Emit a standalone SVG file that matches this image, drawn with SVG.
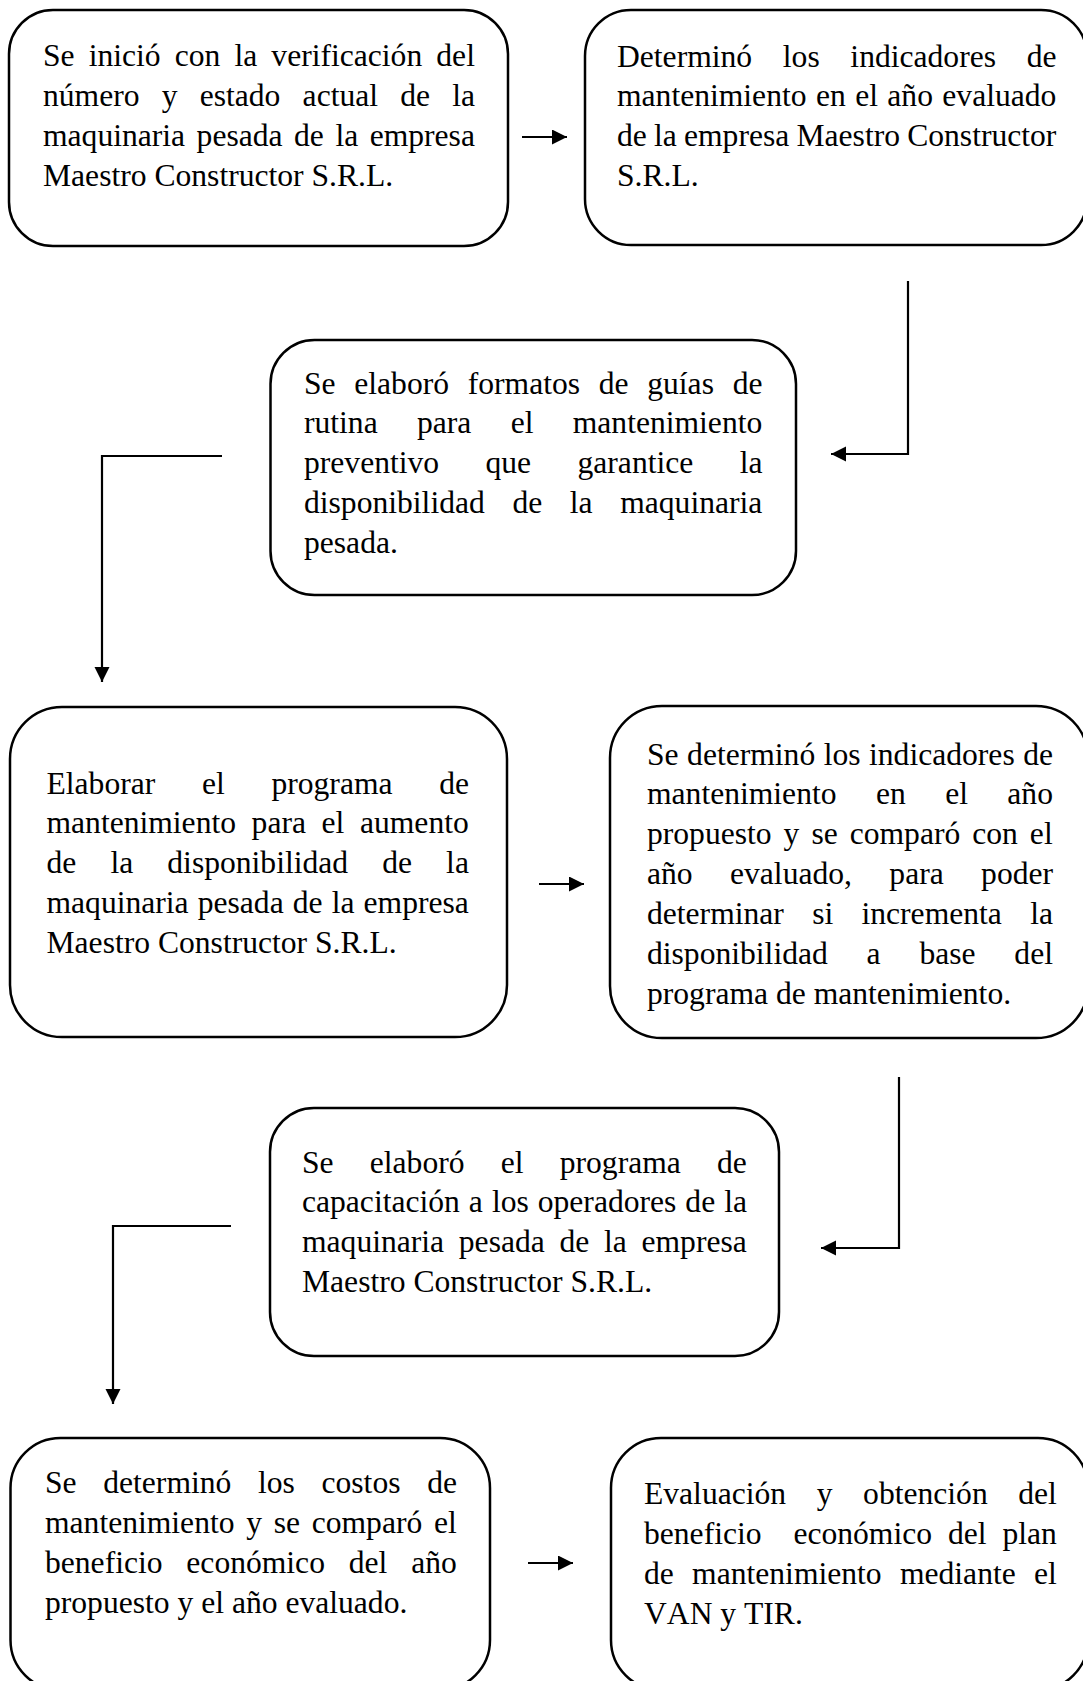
<svg xmlns="http://www.w3.org/2000/svg" width="1083" height="1681" viewBox="0 0 1083 1681">
<defs>
<style>
.box{fill:#fff;stroke:#000;stroke-width:2.5}
.t{font-family:"Liberation Serif","Times New Roman",serif;font-size:31.6px;fill:#000;font-kerning:none}
.c{fill:none;stroke:#000;stroke-width:2.2}
</style>
<marker id="ah" markerUnits="userSpaceOnUse" markerWidth="16" markerHeight="16" refX="15" refY="7.5" orient="auto">
<path d="M0,0 L15,7.5 L0,15 z" fill="#000"/>
</marker>
</defs>
<rect width="1083" height="1681" fill="#fff"/>

<g id="connectors">
<path class="c" d="M522,137 H567" marker-end="url(#ah)"/>
<path class="c" d="M908,281 V454 H831" marker-end="url(#ah)"/>
<path class="c" d="M222,456 H102 V682" marker-end="url(#ah)"/>
<path class="c" d="M539,884 H584" marker-end="url(#ah)"/>
<path class="c" d="M899,1077 V1248 H821" marker-end="url(#ah)"/>
<path class="c" d="M231,1226 H113 V1404" marker-end="url(#ah)"/>
<path class="c" d="M528,1563 H573" marker-end="url(#ah)"/>
</g>

<g id="n1">
<rect class="box" x="9" y="10" width="499" height="236" rx="44" ry="44"/>
<text class="t" x="43" y="66" style="word-spacing:6.2px">Se inició con la verificación del</text>
<text class="t" x="43" y="105.9" style="word-spacing:14.3px">número y estado actual de la</text>
<text class="t" x="43" y="145.8" style="word-spacing:3.6px">maquinaria pesada de la empresa</text>
<text class="t" x="43" y="185.7">Maestro Constructor S.R.L.</text>
</g>

<g id="n2">
<rect class="box" x="585" y="10" width="502" height="235" rx="46" ry="46"/>
<text class="t" x="617" y="66.5" style="word-spacing:22.8px">Determinó los indicadores de</text>
<text class="t" x="617" y="106.4" style="word-spacing:1.5px">mantenimiento en el año evaluado</text>
<text class="t" x="617" y="146.3" style="word-spacing:-0.7px">de la empresa Maestro Constructor</text>
<text class="t" x="617" y="186.2">S.R.L.</text>
</g>

<g id="n3">
<rect class="box" x="270.5" y="340" width="525.5" height="255" rx="44" ry="44"/>
<text class="t" x="304" y="393.5" style="word-spacing:10.8px">Se elaboró formatos de guías de</text>
<text class="t" x="304" y="433.4" style="word-spacing:31.4px">rutina para el mantenimiento</text>
<text class="t" x="304" y="473.3" style="word-spacing:38.5px">preventivo que garantice la</text>
<text class="t" x="304" y="513.2" style="word-spacing:19.7px">disponibilidad de la maquinaria</text>
<text class="t" x="304" y="553.1">pesada.</text>
</g>

<g id="n4">
<rect class="box" x="10" y="707" width="497" height="330" rx="52" ry="52"/>
<text class="t" x="46.5" y="793.5" style="word-spacing:38.8px">Elaborar el programa de</text>
<text class="t" x="46.5" y="833.4" style="word-spacing:7.7px">mantenimiento para el aumento</text>
<text class="t" x="46.5" y="873.3" style="word-spacing:26.2px">de la disponibilidad de la</text>
<text class="t" x="46.5" y="913.2" style="word-spacing:1.2px">maquinaria pesada de la empresa</text>
<text class="t" x="46.5" y="953.1">Maestro Constructor S.R.L.</text>
</g>

<g id="n5">
<rect class="box" x="610" y="706" width="478" height="332" rx="52" ry="52"/>
<text class="t" x="647" y="764.5" style="word-spacing:0.6px">Se determinó los indicadores de</text>
<text class="t" x="647" y="804.4" style="word-spacing:31.5px">mantenimiento en el año</text>
<text class="t" x="647" y="844.3" style="word-spacing:4.1px">propuesto y se comparó con el</text>
<text class="t" x="647" y="884.2" style="word-spacing:29.5px">año evaluado, para poder</text>
<text class="t" x="647" y="924.1" style="word-spacing:20.4px">determinar si incrementa la</text>
<text class="t" x="647" y="964" style="word-spacing:30.9px">disponibilidad a base del</text>
<text class="t" x="647" y="1003.9">programa de mantenimiento.</text>
</g>

<g id="n6">
<rect class="box" x="270" y="1108" width="509" height="248" rx="44" ry="44"/>
<text class="t" x="302" y="1172.5" style="word-spacing:28.3px">Se elaboró el programa de</text>
<text class="t" x="302" y="1212.4" style="word-spacing:1.1px">capacitación a los operadores de la</text>
<text class="t" x="302" y="1252.3" style="word-spacing:6.8px">maquinaria pesada de la empresa</text>
<text class="t" x="302" y="1292.2">Maestro Constructor S.R.L.</text>
</g>

<g id="n7">
<rect class="box" x="10.5" y="1438" width="479.5" height="252" rx="50" ry="50"/>
<text class="t" x="45" y="1493" style="word-spacing:18.75px">Se determinó los costos de</text>
<text class="t" x="45" y="1532.9" style="word-spacing:3.8px">mantenimiento y se comparó el</text>
<text class="t" x="45" y="1572.8" style="word-spacing:15.9px">beneficio económico del año</text>
<text class="t" x="45" y="1612.7">propuesto y el año evaluado.</text>
</g>

<g id="n8">
<rect class="box" x="611" y="1438" width="477" height="252" rx="50" ry="50"/>
<text class="t" x="644" y="1504" style="word-spacing:22.7px">Evaluación y obtención del</text>
<text class="t" y="1543.9"><tspan x="644">beneficio</tspan><tspan x="793.4">económico</tspan><tspan x="948">del</tspan><tspan x="1002.5">plan</tspan></text>
<text class="t" x="644" y="1583.8" style="word-spacing:10.4px">de mantenimiento mediante el</text>
<text class="t" x="644" y="1623.7">VAN y TIR.</text>
</g>
</svg>
